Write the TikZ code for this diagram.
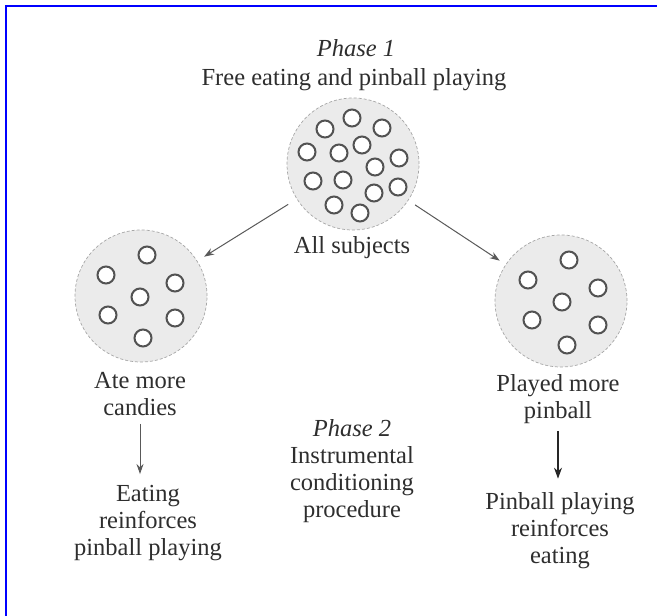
\documentclass[tikz,border=0pt]{standalone}
\usepackage{fontspec}
\setmainfont{Liberation Serif}
\usetikzlibrary{arrows.meta}
\begin{document}
\begin{tikzpicture}[x=1pt,y=-1pt,
  txt/.style={text=black!82, font=\fontsize{24.5}{27}\selectfont, align=center, inner sep=0pt},
  bubble/.style={circle, minimum size=132pt, inner sep=0pt, fill=black!8, draw=black!35, line width=0.7pt, densely dashed},
  ball/.style={circle, minimum size=17pt, inner sep=0pt, fill=white, draw=black!68, line width=2pt},
  arr/.style={draw=black!65, line width=1pt, -{Stealth[length=10pt,width=7pt]}},
  darr/.style={draw=black!85, line width=1.4pt, -{Stealth[length=11pt,width=8pt]}},
  frame/.style={draw=blue, line width=1.2pt}]
\useasboundingbox (0,0) rectangle (657,616);
\coordinate (fa) at (6,616);
\coordinate (fb) at (6,6);
\coordinate (fc) at (657,6);
\draw[frame] (fa) -- (fb) -- (fc);

% texts
\node[txt, font=\fontsize{24.5}{27}\selectfont\itshape] (p1) at (356,48) {Phase 1};
\node[txt] (free) at (354,80) {Free eating and pinball playing};
\node[txt] (all) at (352,248) {All subjects};
\node[txt] (ate) at (140,394) {Ate more\\candies};
\node[txt] (played) at (558,399) {Played more\\pinball};
\node[txt] (eat) at (148,523) {Eating\\reinforces\\pinball playing};
\node[txt] (pin) at (560,531) {Pinball playing\\reinforces\\eating};
\node[txt] (p2) at (352,471) {\textit{Phase 2}\\Instrumental\\conditioning\\procedure};

% bubbles
\node[bubble] (top) at (353,164) {};
\node[bubble] (left) at (141,296) {};
\node[bubble] (right) at (561,301) {};

\foreach \x/\y [count=\i] in {352/118, 325/129, 382/128, 307/152, 339/153, 362/145, 399/158,
    375/167, 313/181, 343/180, 374/193, 398/187, 334/205, 360/213}
  \node[ball] (t\i) at (\x,\y) {};
\foreach \x/\y [count=\i] in {147/255, 106/275, 175/283, 140/297, 108/315, 175/318, 143/338}
  \node[ball] (l\i) at (\x,\y) {};
\foreach \x/\y [count=\i] in {569/260, 528/280, 598/288, 562/302, 532/320, 598/325, 567/345}
  \node[ball] (r\i) at (\x,\y) {};

% connectors
\draw[arr, shorten <=10pt, shorten >=8pt] (top) -- (left);
\draw[arr, shorten <=8pt, shorten >=7pt] (top) -- (right);
\draw[arr, shorten <=8pt, shorten >=11pt] (ate.south) -- (ate.south |- eat.north);
\draw[darr, shorten <=7pt, shorten >=14pt] (played.south) -- (played.south |- pin.north);
\end{tikzpicture}
\end{document}
